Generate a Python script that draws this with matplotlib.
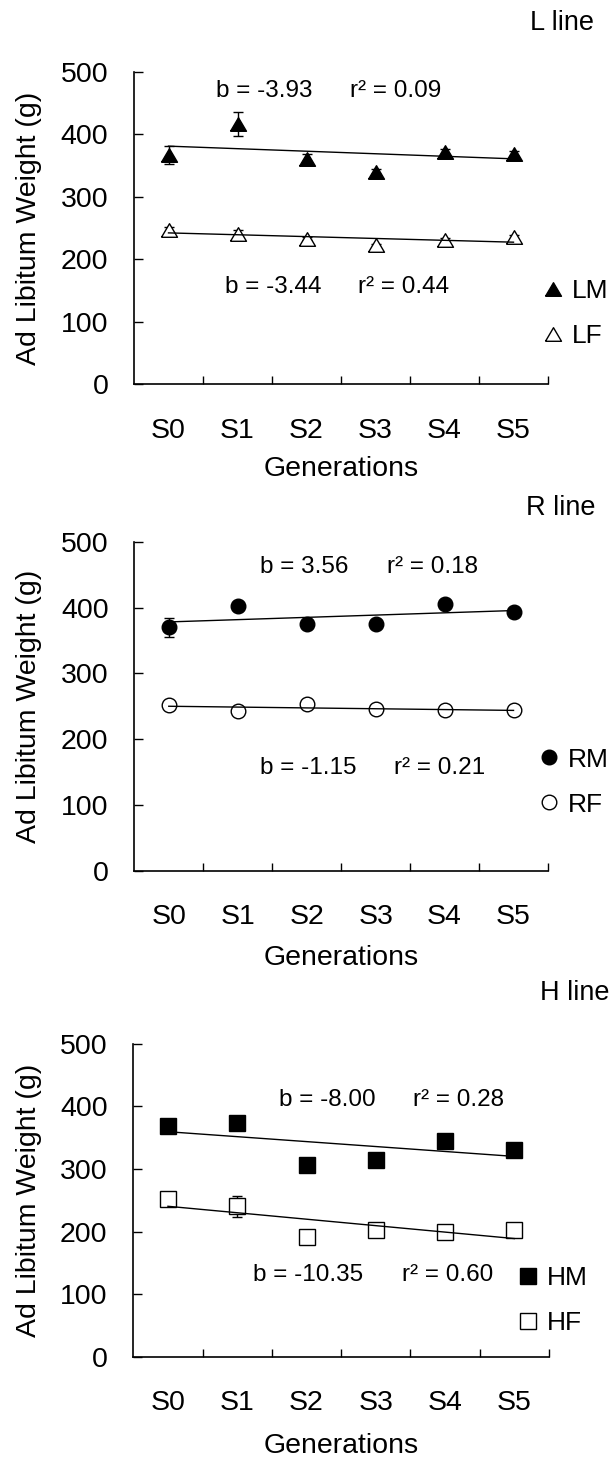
"""
Ad libitum weight across generations S0-S5 for the L, R and H lines,
males (filled) and females (open), with linear trendlines.
"""
import matplotlib
matplotlib.use("Agg")
import matplotlib.pyplot as plt
import numpy as np

plt.rcParams["font.family"] = ["Liberation Sans", "DejaVu Sans"]

GENERATIONS = ["S0", "S1", "S2", "S3", "S4", "S5"]

# L line
lm_mean = [367, 416, 360, 340, 372, 369]
lm_err  = [14, 19.5, 8, 4, 5, 4]
lf_mean = [247, 241, 233, 222, 230, 235]
lf_err  = [4, 5, 3, 3, 4, 3]
# R line
rm_mean = [370, 403, 375, 375, 405, 393]
rm_err  = [14.5, 4, 4, 4, 4, 4]
rf_mean = [252, 243, 253, 246, 244, 244]
rf_err  = [3, 3, 3, 3, 3, 3]
# H line
hm_mean = [369, 374, 306, 315, 344, 330]
hm_err  = [10, 5, 5, 5, 10, 5]
hf_mean = [252, 240, 191, 203, 199, 202]
hf_err  = [4, 17, 3, 4, 4, 4]

# regression text as printed on the figure (male, female)
l_stats = [("-3.93", "0.09"), ("-3.44", "0.44")]
r_stats = [("3.56", "0.18"), ("-1.15", "0.21")]
h_stats = [("-8.00", "0.28"), ("-10.35", "0.60")]

W, H, DPI = 612, 1460, 100
TRI = [(-1, -0.85), (1, -0.85), (0, 0.85), (-1, -0.85)]   # closed, a bit flatter than ^

# panel layout in pixels: left, right, top(500), bottom(0)
PANELS = [
    dict(title="L line", box=(134, 548, 71.6, 384.3), title_xy=(594, 23),
         males=("LM", lm_mean, lm_err), females=("LF", lf_mean, lf_err),
         marker=TRI, ms=11.5, stats=l_stats,
         text_pos=[(1.19, 469, 3.13), (1.32, 155, 3.25)],
         leg=(0.987, 0.226), xlab_px=72),
    dict(title="R line", box=(134.3, 548, 541.7, 871), title_xy=(596, 508),
         males=("RM", rm_mean, rm_err), females=("RF", rf_mean, rf_err),
         marker="o", ms=10.5, stats=r_stats,
         text_pos=[(1.83, 462, 3.66), (1.83, 156, 3.77)],
         leg=(0.977, 0.27), xlab_px=74),
    dict(title="H line", box=(133.3, 549, 1043.7, 1356.7), title_xy=(609, 993),
         males=("HM", hm_mean, hm_err), females=("HF", hf_mean, hf_err),
         marker="s", ms=11.5, stats=h_stats,
         text_pos=[(2.1, 410, 4.04), (1.73, 130, 3.88)],
         leg=(0.924, 0.179), xlab_px=76),
]


def draw_panel(fig, p):
    left, right, top, bottom = p["box"]
    ax = fig.add_axes([left / W, 1 - bottom / H, (right - left) / W, (bottom - top) / H])
    x = np.arange(len(GENERATIONS)) + 0.5
    handles = []
    for (name, mean, err), face in [(p["males"], "black"), (p["females"], "white")]:
        ax.errorbar(x, mean, yerr=err, fmt="none", ecolor="black",
                    elinewidth=1, capsize=3.6, capthick=1, zorder=2)
        h, = ax.plot(x, mean, ls="none", marker=p["marker"], ms=p["ms"],
                     mfc=face, mec="black", mew=1, zorder=3, label=name)
        handles.append(h)
        slope, icpt = np.polyfit(np.arange(len(mean)), mean, 1)
        ax.plot(x, slope * np.arange(len(mean)) + icpt, color="black", lw=1, zorder=4)

    for (b, r2), (bx, by, rx) in zip(p["stats"], p["text_pos"]):
        ax.text(bx, by, f"b = {b}", ha="left", va="center", fontsize=17.5)
        ax.text(rx, by, f"r² = {r2}", ha="left", va="center", fontsize=17.5)

    ax.set_xlim(0, 6)
    ax.set_ylim(0, 500)
    ax.set_yticks(range(0, 501, 100))
    ax.set_xticks(x)
    ax.set_xticklabels(GENERATIONS)
    ax.set_xticks(np.arange(1, 7), minor=True)
    ax.tick_params(axis="x", which="major", length=0, pad=24, labelsize=20.5)
    ax.tick_params(axis="x", which="minor", direction="in", length=6, width=1)
    ax.tick_params(axis="y", direction="in", length=6.5, width=1, pad=18.5, labelsize=20.5)
    ax.spines[["top", "right"]].set_visible(False)
    for s in ("left", "bottom"):
        ax.spines[s].set_linewidth(1.2)

    h_px = bottom - top
    ax.set_ylabel("Ad Libitum Weight (g)", fontsize=20.5)
    ax.yaxis.set_label_coords((42 - left) / (right - left), 0.5)
    ax.set_xlabel("Generations", fontsize=20.5)
    ax.xaxis.set_label_coords(0.5, -p["xlab_px"] / h_px)

    ax.legend(handles, [h.get_label() for h in handles], loc="center left",
              bbox_to_anchor=p["leg"], frameon=False, fontsize=19,
              handlelength=0.8, handletextpad=0.3, labelspacing=0.8,
              borderpad=0, borderaxespad=0, numpoints=1)

    tx, ty = p["title_xy"]
    fig.text(tx / W, 1 - ty / H, p["title"], ha="right", va="center", fontsize=19.5)


def main():
    fig = plt.figure(figsize=(W / DPI, H / DPI), dpi=DPI)
    for p in PANELS:
        draw_panel(fig, p)
    fig.savefig("out.png", dpi=DPI, facecolor="white")


if __name__ == "__main__":
    main()
